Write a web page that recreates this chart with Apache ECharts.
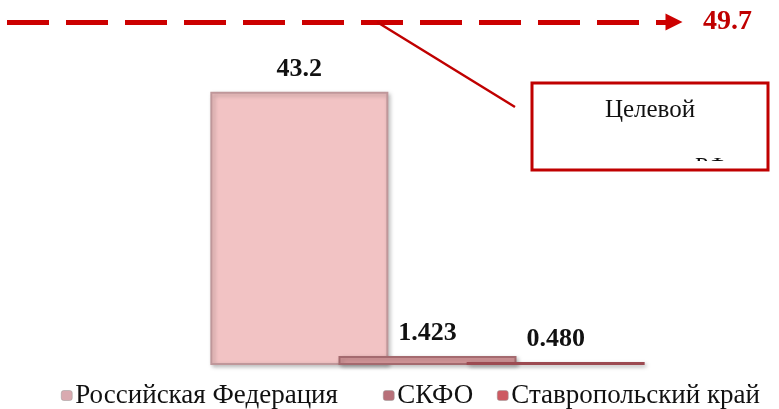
<!DOCTYPE html>
<html>
<head>
<meta charset="utf-8">
<script src="https://cdn.jsdelivr.net/npm/echarts@6/dist/echarts.min.js"></script>
<style>
  html, body { margin: 0; padding: 0; background: #fff; }
  #chart { width: 779px; height: 409px; }
</style>
</head>
<body>
<div id="chart"></div>
<script>
// данные
const categories = [''];
const seriesNames = ['Российская Федерация', 'СКФО', 'Ставропольский край'];
const seriesValues = [43.2, 1.423, 0.480];
const valueLabels = ['43.2', '1.423', '0.480'];
const targetValue = 49.7;
const targetLabel = '49.7';
const calloutTitle = 'Целевой';
const calloutTail = 'РФ';

const serif = '"Liberation Serif", "DejaVu Serif", serif';
const fills = ['#f2c3c4', '#d99a9d', '#cf6c72'];
const borders = ['#bf979a', '#a46a6f', '#9c4a51'];
const legendIcons = ['#d9aab0', '#b77079', '#cd5a62'];

const chart = echarts.init(document.getElementById('chart'));

const barSeries = seriesNames.map(function (name, i) {
  return {
    name: name,
    type: 'bar',
    xAxisIndex: 0,
    yAxisIndex: 0,
    barWidth: 178,
    barGap: '-28%',
    data: [seriesValues[i]],
    itemStyle: {
      color: fills[i],
      borderColor: borders[i],
      borderWidth: 2,
      shadowColor: 'rgba(0,0,0,0.25)',
      shadowBlur: 4,
      shadowOffsetX: 2,
      shadowOffsetY: 2
    },
    label: {
      show: true,
      position: 'top',
      distance: 10,
      formatter: valueLabels[i],
      fontFamily: serif,
      fontWeight: 'bold',
      fontSize: 26,
      color: '#111'
    }
  };
});

chart.setOption({
  animation: false,
  grid: [
    { left: 210, right: 134, top: 21, bottom: 44 },
    { left: 7, right: 105, top: 22, bottom: 44 }
  ],
  xAxis: [
    { type: 'category', gridIndex: 0, data: categories, show: false },
    { type: 'value', gridIndex: 1, min: 0, max: 1, show: false }
  ],
  yAxis: [
    { type: 'value', gridIndex: 0, min: 0, max: 54.4, show: false },
    { type: 'value', gridIndex: 1, min: 0, max: targetValue, show: false }
  ],
  legend: [0, 1, 2].map(function (i) {
    return {
      data: [{ name: seriesNames[i], itemStyle: { color: legendIcons[i], borderColor: '#999', borderWidth: 0.5 } }],
      left: [56, 378, 492][i],
      top: 377,
      itemWidth: 11,
      itemHeight: 10,
      itemGap: 0,
      textStyle: { fontFamily: serif, fontSize: 27, color: '#111', padding: [0, 0, 0, -2] }
    };
  }),
  series: barSeries.concat([{
    name: 'target',
    type: 'line',
    xAxisIndex: 1,
    yAxisIndex: 1,
    clip: false,
    data: [[0, targetValue], [1, targetValue]],
    showSymbol: false,
    lineStyle: { opacity: 0 },
    silent: true,
    markLine: {
      silent: true,
      symbol: ['none', 'triangle'],
      symbolSize: 17,
      lineStyle: { color: '#cc0000', width: 5, type: [42, 17] },
      label: {
        show: true,
        position: 'end',
        distance: 29,
        formatter: targetLabel,
        fontFamily: serif,
        fontWeight: 'bold',
        fontSize: 28,
        color: '#c00000'
      },
      data: [[{ coord: [0, targetValue] }, { coord: [1, targetValue] }]]
    }
  }]),
  graphic: [
    { type: 'line', z: 100, shape: { x1: 377, y1: 22, x2: 515, y2: 107 },
      style: { stroke: '#c00000', lineWidth: 2.5 } },
    { type: 'text', z: 100, style: { text: calloutTail, x: 711, y: 155, fontSize: 24,
      fontFamily: serif, fill: '#111', align: 'center', verticalAlign: 'top' } },
    { type: 'rect', z: 101, shape: { x: 533, y: 161, width: 234, height: 16 },
      style: { fill: '#fff' } },
    { type: 'rect', z: 102, shape: { x: 532, y: 83, width: 236, height: 87 },
      style: { fill: 'none', stroke: '#c00000', lineWidth: 3 } },
    { type: 'text', z: 102, style: { text: calloutTitle, x: 650, y: 110, fontSize: 25,
      fontFamily: serif, fill: '#111', align: 'center', verticalAlign: 'middle' } }
  ]
});
</script>
</body>
</html>
